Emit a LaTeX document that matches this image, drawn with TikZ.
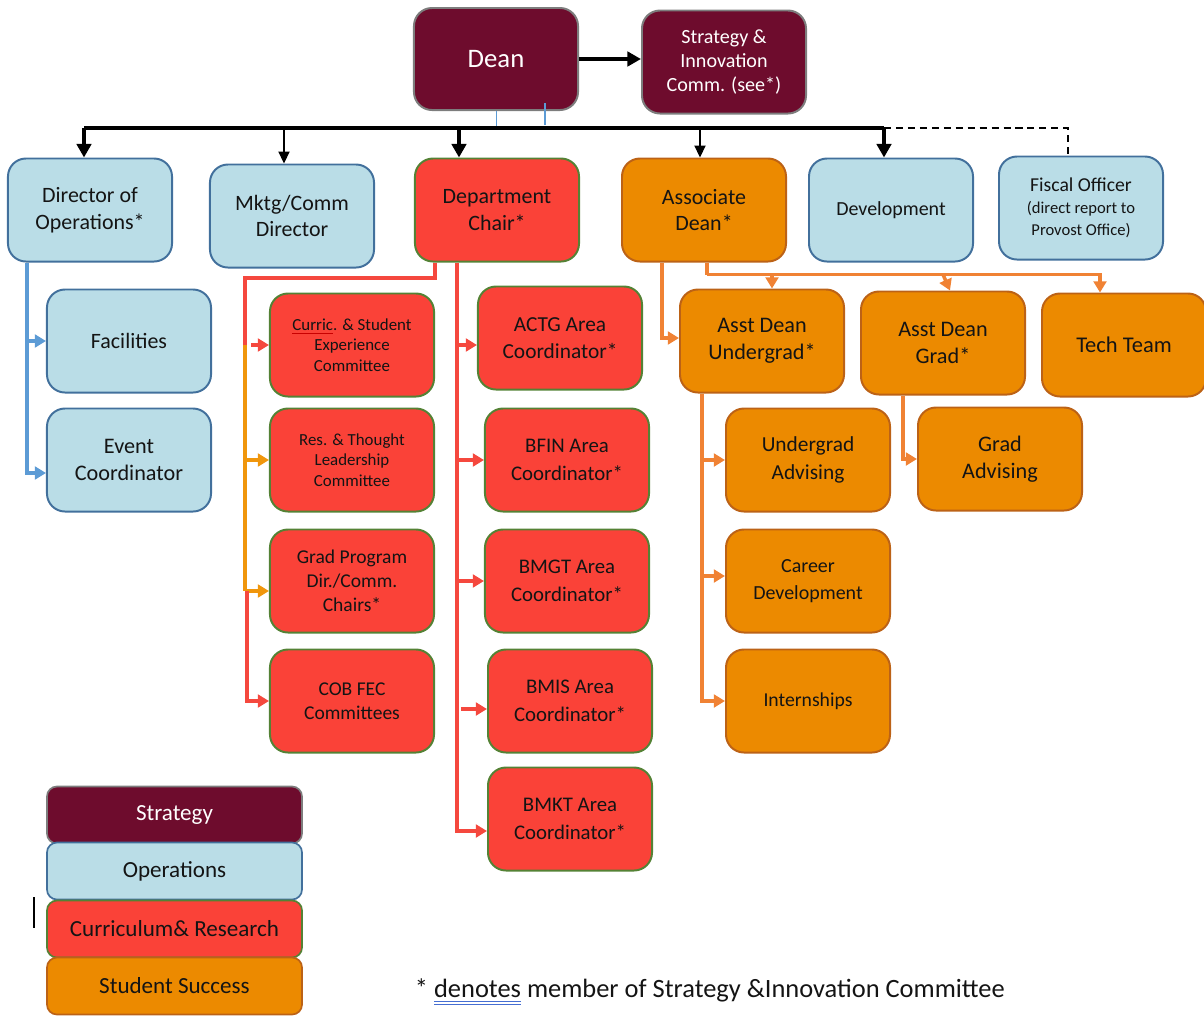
\documentclass[tikz,border=0pt]{standalone}
\usepackage{fontspec}
\setmainfont{Carlito}
\usetikzlibrary{arrows.meta,calc}

\definecolor{maroon}{RGB}{110,12,45}
\definecolor{stratgray}{RGB}{125,125,125}
\definecolor{opsfill}{RGB}{186,221,231}
\definecolor{opsdraw}{RGB}{66,112,156}
\definecolor{curfill}{RGB}{250,66,56}
\definecolor{curdraw}{RGB}{84,130,53}
\definecolor{stufill}{RGB}{236,138,0}
\definecolor{studraw}{RGB}{188,98,22}
\definecolor{curline}{RGB}{245,72,62}
\definecolor{stuline}{RGB}{240,130,52}
\definecolor{yelline}{RGB}{240,150,12}
\definecolor{opsline}{RGB}{92,155,213}
\definecolor{ulblue}{RGB}{70,110,210}
\definecolor{sqred}{RGB}{200,0,0}

\newcommand{\fs}[2]{\fontsize{#1}{#2}\selectfont}
\newcommand{\dblul}[1]{\setbox0\hbox{#1}\rlap{\color{ulblue}\rule[-3pt]{\wd0}{0.6pt}}\rlap{\color{ulblue}\rule[-5pt]{\wd0}{0.6pt}}#1}
\newcommand{\squig}[1]{\setbox0\hbox{#1}\rlap{\color{sqred}\rule[-2.5pt]{\wd0}{0.5pt}}#1}

\begin{document}
\begin{tikzpicture}[x=0.025cm,y=-0.025cm,
    box/.style={draw,line width=1.4pt,rounded corners=0.45cm,minimum width=4.1cm,
      minimum height=2.575cm,align=center,text=black!92,font=\fs{15.6}{19}},
    strat/.style={box,fill=maroon,draw=stratgray,text=white},
    ops/.style={box,fill=opsfill,draw=opsdraw},
    cur/.style={box,fill=curfill,draw=curdraw},
    stu/.style={box,fill=stufill,draw=studraw},
    legend/.style={draw,line width=1.2pt,rounded corners=0.25cm,minimum width=6.375cm,
      minimum height=1.425cm,text=black!92,font=\fs{16.4}{18}},
    trunkln/.style={line width=2.8pt,black},
    thinln/.style={line width=0.9pt,black},
    opsln/.style={line width=2.5pt,opsline},
    curln/.style={line width=2.5pt,curline},
    yelln/.style={line width=2.5pt,yelline},
    stuln/.style={line width=2.5pt,stuline},
    bigtip/.style={-{Triangle[length=0.34cm,width=0.36cm]}},
    smalltip/.style={-{Triangle[length=0.3cm,width=0.28cm]}},
    tip/.style={-{Triangle[length=0.28cm,width=0.32cm]}}]
  \useasboundingbox (0,0) rectangle (1204,1015);

  \node[strat,font=\fs{19}{22},minimum height=2.55cm] (dean) at (496,59) {Dean};
  \node[strat,font=\fs{14.3}{17}] (sic) at (724,62) {Strategy \&\\Innovation\\Comm. (see*)};

  \node[ops] (dirops) at (90,210) {Director of\\Operations*};
  \node[ops] (mktg) at (292,216) {Mktg/Comm\\Director};
  \node[cur] (chair) at (497,210) {Department\\Chair*};
  \node[stu] (assoc) at (704,210) {Associate\\Dean*};
  \node[ops,font=\fs{14.2}{17}] (dev) at (891,210) {Development};
  \node[ops,font=\fs{11.8}{15.5}] (fiscal) at (1081,208)
    {{\fs{14}{15.5}Fiscal Officer}\\(direct report to\\Provost Office)};

  \node[ops,font=\fs{15.6}{19}] (fac) at (129,341) {Facilities};
  \node[ops,font=\fs{15.8}{19.5}] (event) at (129,460) {Event\\Coordinator};

  \node[cur,font=\fs{12}{14.5}] (curric) at (352,345) {\squig{Curric}. \& Student\\Experience\\Committee};
  \node[cur,font=\fs{12}{14.5}] (res) at (352,460) {Res. \& Thought\\Leadership\\Committee};
  \node[cur,font=\fs{13.9}{17}] (gradprog) at (352,581) {Grad Program\\Dir./Comm.\\Chairs*};
  \node[cur,font=\fs{13.9}{17}] (cobfec) at (352,701) {COB FEC\\Committees};

  \node[cur,font=\fs{15.2}{19.5}] (actg) at (560,338) {ACTG Area\\Coordinator*};
  \node[cur,font=\fs{14.8}{19.5}] (bfin) at (567,460) {BFIN Area\\Coordinator*};
  \node[cur,font=\fs{14.8}{19.5}] (bmgt) at (567,581) {BMGT Area\\Coordinator*};
  \node[cur,font=\fs{14.8}{19.5}] (bmis) at (570,701) {BMIS Area\\Coordinator*};
  \node[cur,font=\fs{14.8}{19.5}] (bmkt) at (570,819) {BMKT Area\\Coordinator*};

  \node[stu,font=\fs{15.8}{19}] (adug) at (762,341) {Asst Dean\\Undergrad*};
  \node[stu,font=\fs{15.8}{19}] (adgr) at (943,343) {Asst Dean\\Grad*};
  \node[stu,font=\fs{16}{19}] (tech) at (1124,345) {Tech Team};
  \node[stu,font=\fs{15.2}{19.5}] (ugadv) at (808,460) {Undergrad\\Advising};
  \node[stu,font=\fs{14.2}{19}] (career) at (808,581) {Career\\Development};
  \node[stu,font=\fs{14}{19}] (intern) at (808,701) {Internships};
  \node[stu,font=\fs{15.8}{19.5}] (gradadv) at (1000,459) {Grad\\Advising};

  \node[legend,fill=maroon,draw=stratgray,text=white] (lgstrat) at (174.5,815) {Strategy};
  \node[legend,fill=opsfill,draw=opsdraw] (lgops) at (174.5,871) {Operations};
  \node[legend,fill=curfill,draw=curdraw] (lgcur) at (174.5,929) {Curriculum\& Research};
  \node[legend,fill=stufill,draw=studraw] (lgstu) at (174.5,986) {Student Success};
  \draw[line width=0.9pt] (34,897) -- (34,928);

  \node[anchor=west,font=\fs{18.8}{22},text=black!92] (note) at (410,992)
    {* \dblul{denotes} member of Strategy \&Innovation Committee};

  \draw[trunkln,bigtip] (dean) -- (dean -| sic.west);
  \coordinate (t1) at (84,128);
  \coordinate (t2) at (284,128);
  \coordinate (t3) at (459,128);
  \coordinate (t4) at (700,128);
  \coordinate (t5) at (884,128);
  \draw[opsline,line width=0.7pt] (dean.south) -- (dean.south |- t1);
  \draw[opsline,line width=1.3pt] ($(dean.south)+(49,-8)$) -- ++(0,22);
  \draw[trunkln] (t1) -- (t5);
  \draw[trunkln,bigtip] (t1) -- (t1 |- dirops.north);
  \draw[thinln,smalltip] (t2) -- (t2 |- mktg.north);
  \draw[trunkln,bigtip] (t3) -- (t3 |- chair.north);
  \draw[thinln,smalltip] (t4) -- (t4 |- assoc.north);
  \draw[trunkln,bigtip] (t5) -- (t5 |- dev.north);
  \draw[line width=1.3pt,dashed,dash pattern=on 5pt off 3.5pt] (t5) -| ($(fiscal.north)+(-13,0)$);

  \coordinate (ov1) at ($(dirops.south west)+(20,0)$);
  \draw[opsln,tip] (ov1) |- ($(event.west)+(0,13)$);
  \draw[opsln,tip] (ov1 |- fac.west) -- (fac.west);

  \coordinate (cl) at (245,278);
  \draw[curln] ($(chair.south west)+(21,0)$) |- (cl) -- (cl |- curric.west);
  \draw[yelln] (cl |- curric.west) -- ($(cl |- gradprog.west)+(0,10)$);
  \draw[yelln,tip] (cl |- res.west) -- (res.west);
  \draw[yelln,tip] ($(cl |- gradprog.west)+(0,10)$) -- ($(gradprog.west)+(0,10)$);
  \draw[curln,tip] ($(cl |- gradprog.west)+(2,10)$) |- (cobfec.west);
  \draw[curln,tip] ($(cl |- curric.west)+(6,0)$) -- (curric.west);

  \coordinate (cr) at ($(chair.south west)+(43,0)$);
  \draw[curln,tip] (cr) |- ($(bmkt.west)+(0,12)$);
  \draw[curln,tip] ($(cr |- actg.west)+(0,7)$) -- ($(actg.west)+(0,7)$);
  \draw[curln,tip] (cr |- bfin.west) -- (bfin.west);
  \draw[curln,tip] (cr |- bmgt.west) -- (bmgt.west);
  \draw[curln,tip] ($(cr |- bmis.west)+(4,8)$) -- ($(bmis.west)+(0,8)$);

  \draw[stuln,tip] ($(assoc.south west)+(41,0)$) |- ($(adug.west)+(0,-3)$);
  \coordinate (ob) at ($(assoc.south west)+(86,12)$);
  \draw[stuln] ($(assoc.south west)+(86,0)$) -- (ob);
  \draw[stuln,tip] (ob) -| ($(tech.north)+(-24,0)$);
  \coordinate (o2) at ($(ob -| adug.north)+(10,0)$);
  \draw[stuln,tip] (o2) -- (o2 |- adug.north);
  \coordinate (o3) at (ob -| adgr.north);
  \draw[stuln,tip] (o3) -- ($(adgr.north)+(7,0)$);

  \coordinate (ov2) at ($(adug.south west)+(23,0)$);
  \draw[stuln,tip] (ov2) |- (intern.west);
  \draw[stuln,tip] (ov2 |- ugadv.west) -- (ugadv.west);
  \draw[stuln,tip] ($(ov2 |- career.west)+(0,-5)$) -- ($(career.west)+(0,-5)$);
  \draw[stuln,tip] ($(adgr.south west)+(43,0)$) |- (gradadv.west);
\end{tikzpicture}
\end{document}
